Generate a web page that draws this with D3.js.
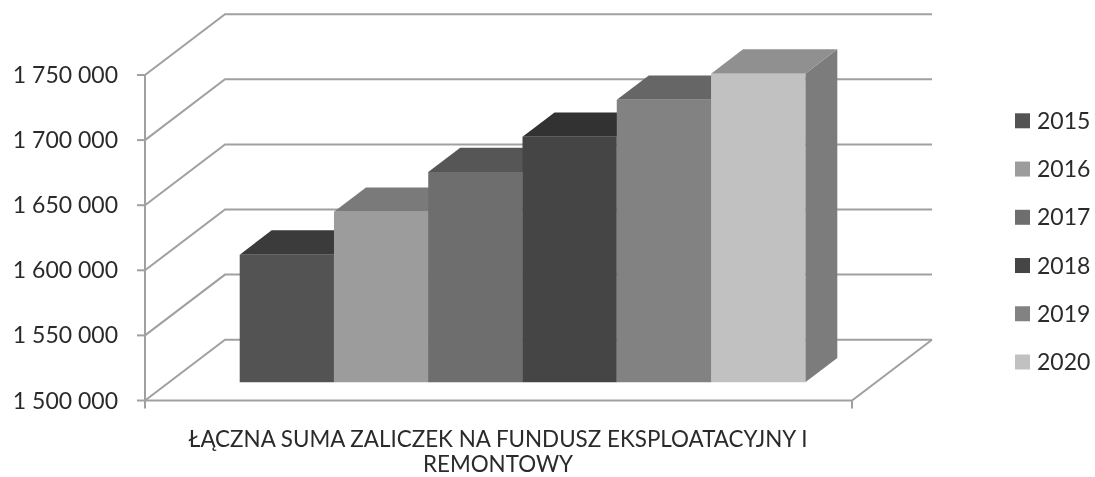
<!DOCTYPE html>
<html><head><meta charset="utf-8">
<script src="https://cdn.jsdelivr.net/npm/d3@7"></script>
<style>html,body{margin:0;padding:0;background:#fff}svg{display:block}text{font-family:Lato,"Open Sans",sans-serif;fill:#2b2b2b}</style>
</head><body><svg id="c" width="1095" height="477"></svg>
<script>
const years=["2015","2016","2017","2018","2019","2020"];
const values=[1598000,1631000,1661500,1688500,1717000,1737000];
const fronts=["#535353","#9c9c9c","#6e6e6e","#454545","#828282","#c1c1c1"];
const tops=["#3a3a3a","#7a7a7a","#575757","#333333","#666666","#909090"];
const sides=["#3f3f3f","#777777","#555555","#343434","#636363","#7b7b7b"];
const ticks=[1500000,1550000,1600000,1650000,1700000,1750000];
const tickLabels=["1 500 000","1 550 000","1 600 000","1 650 000","1 700 000","1 750 000"];
const categoryLines=["ŁĄCZNA SUMA ZALICZEK NA FUNDUSZ EKSPLOATACYJNY I","REMONTOWY"];

const svg=d3.select("#c");
const defs=svg.append("defs");
defs.append("filter").attr("id","soft").attr("x","-2%").attr("y","-2%").attr("width","104%").attr("height","104%")
  .append("feGaussianBlur").attr("stdDeviation",0.6);
const g=svg.append("g").attr("filter","url(#soft)");

const y=d3.scaleLinear().domain([1500000,1750000]).range([400.5,75]);
const plotX=[145,852];
const depth={x:80,y:-60.8};
const bandFrom=0.3,bandTo=0.7;
const x=d3.scaleBand().domain(years).range(plotX).paddingInner(0).paddingOuter(0.75);
const grid="#a0a0a0",gw=2;
const path=d3.line();
const P=(px,v,z)=>[px+depth.x*z,y(v)+depth.y*z];

// walls
ticks.forEach((t,i)=>{
  g.append("path").attr("d",path([P(plotX[0],t,0),P(plotX[0],t,1),P(plotX[1],t,1)]))
   .attr("fill","none").attr("stroke",grid).attr("stroke-width",gw);
  g.append("line").attr("x1",137).attr("x2",plotX[0]).attr("y1",y(t)).attr("y2",y(t))
   .attr("stroke",grid).attr("stroke-width",gw);
  g.append("text").attr("x",118).attr("y",y(t)+8).attr("text-anchor","end")
   .attr("font-size",23).text(tickLabels[i]);
});
// floor and axes
g.append("path").attr("d",path([P(plotX[0],ticks[0],0),P(plotX[1],ticks[0],0),P(plotX[1],ticks[0],1)]))
 .attr("fill","none").attr("stroke",grid).attr("stroke-width",gw);
g.append("line").attr("x1",plotX[0]).attr("x2",plotX[0]).attr("y1",y(1750000)).attr("y2",y(1500000)+8)
 .attr("stroke",grid).attr("stroke-width",gw);
g.append("line").attr("x1",plotX[1]).attr("x2",plotX[1]).attr("y1",y(1500000)).attr("y2",y(1500000)+8)
 .attr("stroke",grid).attr("stroke-width",gw);

// bars
years.forEach((yr,i)=>{
  const x0=x(yr),x1=x0+x.bandwidth(),v=values[i],b=ticks[0];
  g.append("path").attr("fill",sides[i]).attr("d",path([P(x1,b,bandFrom),P(x1,b,bandTo),P(x1,v,bandTo),P(x1,v,bandFrom)])+"Z");
  g.append("path").attr("fill",tops[i]).attr("d",path([P(x0,v,bandFrom),P(x1,v,bandFrom),P(x1,v,bandTo),P(x0,v,bandTo)])+"Z");
  g.append("path").attr("fill",fronts[i]).attr("d",path([P(x0,b,bandFrom),P(x1,b,bandFrom),P(x1,v,bandFrom),P(x0,v,bandFrom)])+"Z");
});

// category label
categoryLines.forEach((s,i)=>{
  g.append("text").attr("x",498).attr("y",447+i*25).attr("text-anchor","middle")
   .attr("font-size",22.4).text(s);
});

// legend
const legY=d3.scalePoint().domain(years).range([120.8,362]);
years.forEach((yr,i)=>{
  g.append("rect").attr("x",1015).attr("y",legY(yr)-7.5).attr("width",15).attr("height",15).attr("fill",fronts[i]);
  g.append("text").attr("x",1037).attr("y",legY(yr)+8).attr("font-size",23).text(yr);
});
</script></body></html>
